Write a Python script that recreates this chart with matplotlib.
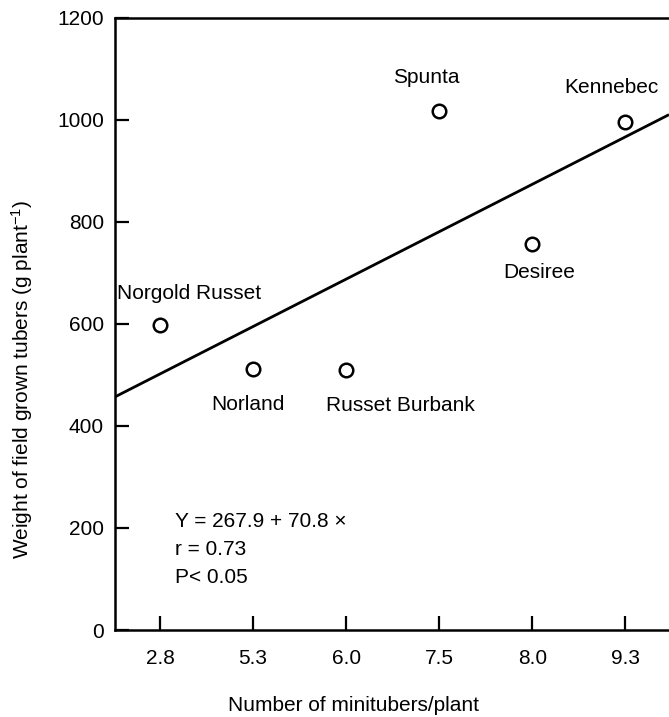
import numpy as np
import matplotlib
matplotlib.use("Agg")
import matplotlib.pyplot as plt

plt.rcParams['font.family'] = ['Liberation Sans', 'DejaVu Sans']
plt.rcParams['mathtext.fontset'] = 'custom'
plt.rcParams['mathtext.rm'] = 'Liberation Sans'
plt.rcParams['mathtext.default'] = 'regular'

# data
tick_labels = ["2.8", "5.3", "6.0", "7.5", "8.0", "9.3"]
cultivars = ["Norgold Russet", "Norland", "Russet Burbank", "Spunta", "Desiree", "Kennebec"]
weights = [597, 512, 510, 1018, 757, 996]
# regression line as drawn, at the two ends of the x axis
fit_x = [0.516, 6.47]
fit_y = [457, 1010]

pos = np.arange(1, len(tick_labels) + 1)
fs = 15

fig = plt.figure(figsize=(6.69, 7.17), dpi=100)
ax = fig.add_axes([0.172, 0.1213, 0.828, 0.854])

ax.plot(fit_x, fit_y, color="black", linewidth=2.0, solid_capstyle="butt")
ax.scatter(pos, weights, s=95, facecolors="white", edgecolors="black", linewidths=1.8, zorder=3)

# cultivar labels: (dx, dy) offsets in points from the marker
offsets = {
    "Norgold Russet": (21, 23),
    "Norland": (-4, -26),
    "Russet Burbank": (39, -26),
    "Spunta": (-9, 24),
    "Desiree": (5, -21),
    "Kennebec": (-10, 25),
}
for x, y, name in zip(pos, weights, cultivars):
    dx, dy = offsets[name]
    ax.annotate(name, (x, y), xytext=(dx, dy), textcoords="offset points",
                ha="center", va="center", fontsize=fs)

ax.text(0.108, 0.177, "Y = 267.9 + 70.8 \u00d7", transform=ax.transAxes, fontsize=fs, va="center")
ax.text(0.108, 0.131, "r = 0.73", transform=ax.transAxes, fontsize=fs, va="center")
ax.text(0.108, 0.085, "P< 0.05", transform=ax.transAxes, fontsize=fs, va="center")

ax.set_xlim(fit_x[0], fit_x[1])
ax.set_ylim(0, 1200)
ax.set_xticks(pos)
ax.set_xticklabels(tick_labels)
ax.set_yticks(np.arange(0, 1201, 200))
ax.tick_params(direction="in", length=10, width=1.6, labelsize=fs, pad=8)
ax.tick_params(axis="x", pad=14)

for side in ["left", "bottom", "top"]:
    ax.spines[side].set_linewidth(1.8)
ax.spines["right"].set_visible(False)

ax.set_xlabel("Number of minitubers/plant", fontsize=fs)
ax.xaxis.set_label_coords(0.43, -0.108)
ax.set_ylabel("Weight of field grown tubers (g plant$^{-1}$)", fontsize=fs)
ax.yaxis.set_label_coords(-0.145, 0.41)

fig.savefig("out.png", dpi=100)
